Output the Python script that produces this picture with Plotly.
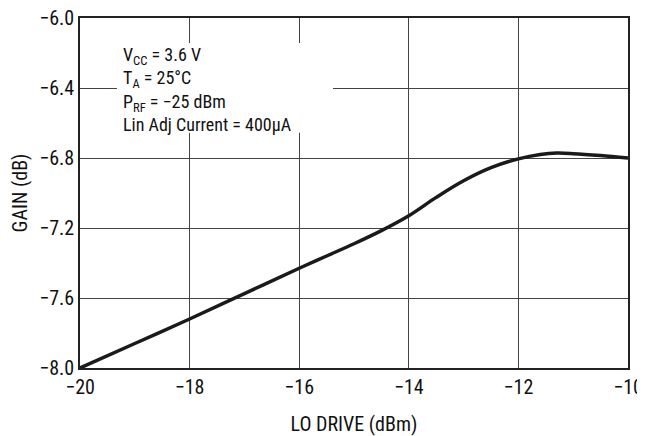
import plotly.graph_objects as go

lo_drive = [-20, -19, -18, -17, -16, -15.5, -15, -14.5, -14, -13.5, -13, -12.5, -12, -11.6, -11.3, -11, -10.5, -10]
gain = [-8.0, -7.86, -7.72, -7.575, -7.43, -7.36, -7.29, -7.215, -7.13, -7.025, -6.93, -6.855, -6.805, -6.78, -6.772, -6.775, -6.786, -6.80]

x_ticks = [-20, -18, -16, -14, -12, -10]
x_ticklabels = ["\u221220", "\u221218", "\u221216", "\u221214", "\u221212", "\u221210"]
y_ticks = [-8.0, -7.6, -7.2, -6.8, -6.4, -6.0]
y_ticklabels = ["\u22128.0", "\u22127.6", "\u22127.2", "\u22126.8", "\u22126.4", "\u22126.0"]

note_lines = [
    "V<sub>CC</sub> = 3.6 V",
    "T<sub>A</sub> = 25\u00b0C",
    "P<sub>RF</sub> = \u221225 dBm",
    "Lin Adj Current = 400\u00b5A",
]

COND = "Roboto Condensed, Liberation Sans Narrow, Arial Narrow, sans-serif"

fig = go.Figure()
fig.add_trace(go.Scatter(x=lo_drive, y=gain, mode="lines",
                         line=dict(color="#1a1a1a", width=3.5, shape="spline", smoothing=1.0),
                         showlegend=False, hoverinfo="skip", cliponaxis=False))

fig.update_layout(
    width=637, height=428,
    margin=dict(l=72, r=17, t=10, b=68),
    paper_bgcolor="white", plot_bgcolor="white",
    font=dict(family=COND, size=19, color="#111"),
    xaxis=dict(range=[-20, -10], tickvals=x_ticks, ticktext=x_ticklabels,
               tickfont=dict(family=COND, size=20, color="#111"), automargin=False,
               ticklabeloverflow="allow",
               showgrid=True, gridcolor="#444", gridwidth=1,
               showline=True, linecolor="#222", linewidth=1.5, mirror=True,
               zeroline=False, ticks="", ticklen=0,
               title=dict(text="LO DRIVE (dBm)", font=dict(family=COND, size=20, color="#111"), standoff=19)),
    yaxis=dict(range=[-8.0, -6.0], tickvals=y_ticks, ticktext=y_ticklabels,
               tickfont=dict(family=COND, size=20, color="#111"), automargin=False,
               ticklabeloverflow="allow",
               showgrid=True, gridcolor="#444", gridwidth=1,
               showline=True, linecolor="#222", linewidth=1.5, mirror=True,
               zeroline=False, ticks="", ticklen=0,
               title=dict(text="GAIN (dB)", font=dict(family=COND, size=20, color="#111"), standoff=6)),
)

fig.add_shape(type="rect", xref="paper", yref="paper",
              x0=0.0675, x1=0.4617, y0=0.672, y1=0.9286,
              fillcolor="white", line=dict(width=0), layer="above")

fig.add_annotation(xref="paper", yref="paper", x=0.074, y=0.932,
                   xanchor="left", yanchor="top", align="left", showarrow=False,
                   font=dict(family=COND, size=18, color="#111"),
                   text="<br>".join(note_lines))

fig.write_html("out.html")
